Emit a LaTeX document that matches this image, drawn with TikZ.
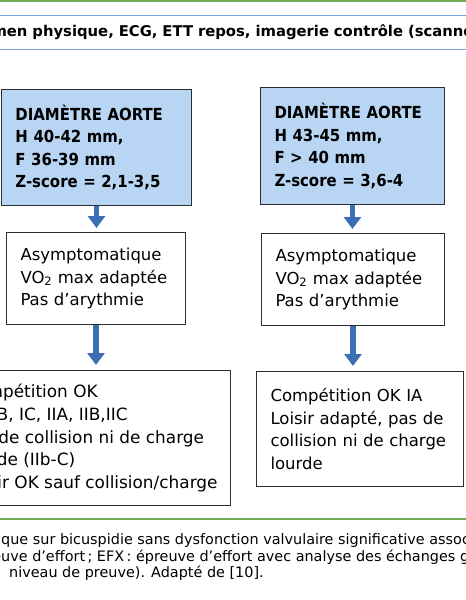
\documentclass[tikz,border=0pt]{standalone}
\usepackage{fontspec}
\setmainfont{DejaVu Sans}
\newfontfamily\titrefont{DejaVu Sans Condensed}
\usepackage{tikz}
\usetikzlibrary{
    positioning,
    arrows.meta
}
\definecolor{vertfilet}{RGB}{110,170,80}
\definecolor{bleucadre}{RGB}{120,165,220}
\definecolor{bleuboite}{RGB}{184,213,243}
\definecolor{bleufleche}{RGB}{60,110,180}
\definecolor{grisbord}{RGB}{45,45,45}
\tikzset{
    >={Triangle[width=17pt,length=12pt]},
    critere/.style={
        draw=grisbord,
        line width=1pt,
        fill=bleuboite,
        align=left,
        inner xsep=14pt,
        font=\titrefont\bfseries\fontsize{16.6}{22.6}\selectfont
    },
    bilan/.style={
        draw=grisbord,
        line width=1pt,
        fill=white,
        align=left,
        inner xsep=14pt,
        font=\fontsize{16.5}{22.6}\selectfont
    },
    fleche/.style={
        ->,
        line width=5.5pt,
        draw=bleufleche
    }
}

\begin{document}
\begin{tikzpicture}[
    x=1pt,
    y=-1pt
]
    \useasboundingbox (0,0) rectangle (466,600);
    \clip (0,0) rectangle (466,600);

    % Filets verts
    \draw[vertfilet, line width=2.5pt] (0,1.2) -- (466,1.2);
    \draw[vertfilet, line width=2.5pt] (0,519) -- (466,519);

    % Bandeau du bilan initial
    \node[draw=bleucadre, line width=1pt, anchor=west,
          minimum width=560pt, minimum height=34pt,
          text width=518pt, inner xsep=21pt, align=left,
          font=\bfseries\fontsize{14.8}{17}\selectfont]
        (examen) at (-30,32)
        {\llap{Exa}men physique, ECG, ETT repos, imagerie contrôle (scanner)};

    % Colonne gauche
    \node[critere, anchor=north west, minimum width=190pt,
          minimum height=116pt, text width=162pt]
        (diam1) at (1,89)
        {DIAMÈTRE AORTE\\ H 40-42 mm,\\ F 36-39 mm\\ Z-score = 2,1-3,5};

    \node[bilan, anchor=north west, minimum width=179pt,
          minimum height=92pt, text width=151pt]
        (bilan1) at (6,232)
        {Asymptomatique\\ VO\textsubscript{2} max adaptée\\ Pas d’arythmie};

    \node[bilan, anchor=north east, minimum height=135pt, inner xsep=13pt,
          font=\fontsize{16.9}{22.6}\selectfont]
        (sport1) at (231,370)
        {Compétition OK\\ IA, IB, IC, IIA, IIB,IIC\\ Pas de collision ni de charge\\
         lourde (IIb-C)\\ Loisir OK sauf collision/charge};

    % Colonne droite
    \node[critere, anchor=north west, minimum width=184pt,
          minimum height=117pt, text width=156pt]
        (diam2) at (260,87)
        {DIAMÈTRE AORTE\\ H 43-45 mm,\\ F > 40 mm\\ Z-score = 3,6-4};

    \node[bilan, anchor=north west, minimum width=183pt,
          minimum height=92pt, text width=155pt]
        (bilan2) at (261,233)
        {Asymptomatique\\ VO\textsubscript{2} max adaptée\\ Pas d’arythmie};

    \node[bilan, anchor=north west, minimum width=207pt,
          minimum height=115pt, text width=179pt]
        (sport2) at (256,371)
        {Compétition OK IA\\ Loisir adapté, pas de\\ collision ni de charge\\ lourde};

    % Fleches
    \draw[fleche, shorten >=4pt]
        (diam1.south) -- (diam1.south |- bilan1.north);
    \draw[fleche, shorten >=5pt]
        (bilan1.south) -- (bilan1.south |- sport1.north);
    \draw[fleche, shorten >=4pt]
        (diam2.south) -- (diam2.south |- bilan2.north);
    \draw[fleche, shorten >=5pt]
        (bilan2.south) -- (bilan2.south |- sport2.north);

    % Legende
    \node[anchor=north west, inner sep=0pt, align=left,
          font=\fontsize{14.4}{16.5}\selectfont]
        (legende) at (1,533)
        {\llap{prati}que sur bicuspidie sans dysfonction valvulaire significative associée\\
         \llap{épre}uve d’effort\,; EFX\,: épreuve d’effort avec analyse des échanges gazeux\\
         \hspace*{8pt}niveau de preuve). Adapté de [10].};

\end{tikzpicture}
\end{document}
